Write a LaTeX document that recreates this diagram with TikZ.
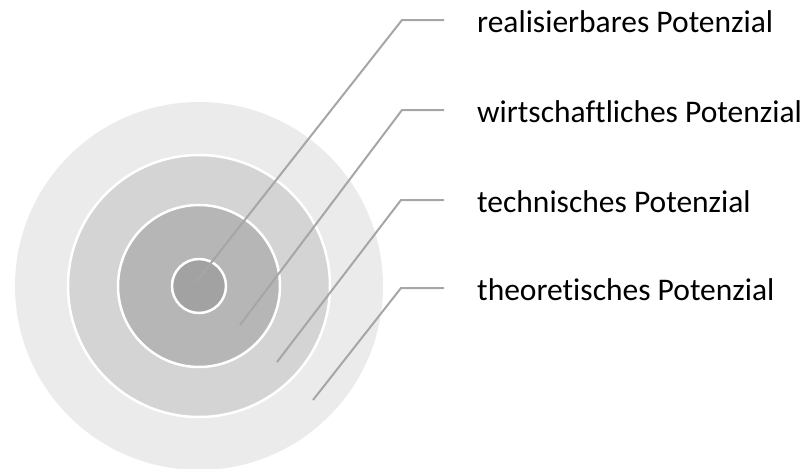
\documentclass[tikz,border=0pt]{standalone}
\usepackage{fontspec}
\setmainfont[Ligatures={NoCommon}]{Carlito}

\definecolor{ringtheo}{HTML}{EBEBEB}
\definecolor{ringtech}{HTML}{D4D4D4}
\definecolor{ringwirt}{HTML}{B6B6B6}
\definecolor{ringreal}{HTML}{A2A2A2}
\definecolor{leadgray}{HTML}{A6A6A6}

\tikzset{
  ring/.style={circle,draw=white,line width=2.5pt,inner sep=0pt},
  leader/.style={draw=leadgray,line width=2pt,shorten >=33pt},
  potlabel/.style={anchor=base west,inner sep=0pt,font=\fontsize{31.5}{36}\selectfont}
}

\begin{document}
\begin{tikzpicture}[x=1pt,y=-1pt]
  \useasboundingbox (0,0) rectangle (807,469);

  % the four rings, outermost first
  \node[ring,fill=ringtheo,draw=none,minimum size=368pt] (theo) at (199,286) {};
  \node[ring,fill=ringtech,minimum size=262pt] (tech) at (199,286) {};
  \node[ring,fill=ringwirt,minimum size=162pt] (wirt) at (199,286) {};
  \node[ring,fill=ringreal,minimum size=54pt] (real) at (199,286) {};

  % labels
  \node[potlabel] (lreal) at (477,32) {realisierbares Potenzial};
  \node[potlabel] (lwirt) at (477,122) {wirtschaftliches Potenzial};
  \node[potlabel] (ltech) at (477,212) {technisches Potenzial};
  \node[potlabel] (ltheo) at (477,300) {theoretisches Potenzial};

  % start and bend points of the leaders
  \coordinate (preal) at (196,282);
  \coordinate (kreal) at (402,20);
  \coordinate (pwirt) at (240,325);
  \coordinate (kwirt) at (402,110);
  \coordinate (ptech) at (277,362);
  \coordinate (ktech) at (401,200);
  \coordinate (ptheo) at (313,400);
  \coordinate (ktheo) at (401,288);

  % leaders
  \draw[leader] (preal) -- (kreal) -- (kreal -| lreal.west);
  \draw[leader] (pwirt) -- (kwirt) -- (kwirt -| lwirt.west);
  \draw[leader] (ptech) -- (ktech) -- (ktech -| ltech.west);
  \draw[leader] (ptheo) -- (ktheo) -- (ktheo -| ltheo.west);
\end{tikzpicture}
\end{document}
